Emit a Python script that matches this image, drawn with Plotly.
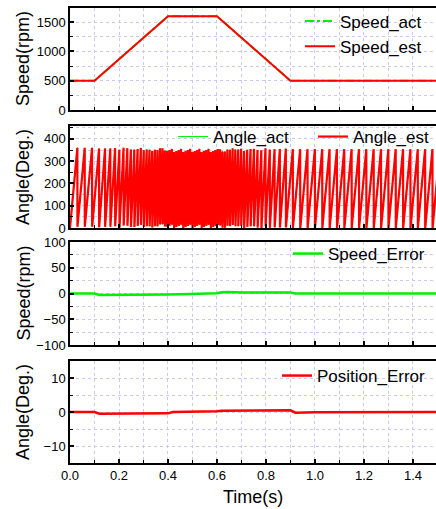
import numpy as np
import plotly.graph_objects as go

# ---- data ----
speed_t = [0.0, 0.1, 0.4, 0.6, 0.9, 1.5]          # s
speed_rpm = [500, 500, 1600, 1600, 500, 500]        # rpm (speed profile)
pole_pairs = 4

spd_err_t = [0.0, 0.1, 0.12, 0.2, 0.3, 0.4, 0.45, 0.5, 0.6, 0.62, 0.64, 0.7, 0.8, 0.9, 0.92, 1.0, 1.5]
spd_err_v = [0.0, 0.0, -3.0, -3.0, -3.0, -2.0, -1.5, -0.5, 0.5, 2.5, 3.0, 2.0, 2.0, 2.0, 0.0, 0.0, 0.0]

pos_err_t = [0.0, 0.1, 0.12, 0.2, 0.3, 0.4, 0.42, 0.5, 0.6, 0.62, 0.7, 0.8, 0.88, 0.9, 0.92, 1.0, 1.5]
pos_err_v = [0.0, 0.0, -0.5, -0.5, -0.4, -0.4, 0.0, 0.0, 0.2, 0.4, 0.4, 0.4, 0.6, 0.5, -0.2, -0.1, 0.0]

x_ticks = [0.0, 0.2, 0.4, 0.6, 0.8, 1.0, 1.2, 1.4]

# ---- electrical angle from the speed profile ----
t = np.arange(0, 1.5 + 1e-9, 0.0005)
spd = np.interp(t, speed_t, speed_rpm)
theta = np.concatenate([[0.0], np.cumsum((spd[1:] + spd[:-1]) / 2 * np.diff(t))]) * 6 * pole_pairs
ang = np.mod(theta, 360.0)

FONT = "Liberation Sans, Arial, sans-serif"
GRID = "#c8c8f2"
RED = "#ff0000"
GREEN = "#00ee00"

fig = go.Figure()
fig.add_trace(go.Scatter(x=speed_t, y=speed_rpm, mode="lines", name="Speed_act",
                         line=dict(color=GREEN, width=2, dash="dashdot"), xaxis="x", yaxis="y", legend="legend"))
fig.add_trace(go.Scatter(x=speed_t, y=speed_rpm, mode="lines", name="Speed_est",
                         line=dict(color=RED, width=2), xaxis="x", yaxis="y", legend="legend"))
fig.add_trace(go.Scatter(x=t, y=ang, mode="lines", name="Angle_act",
                         line=dict(color=GREEN, width=1), xaxis="x2", yaxis="y2", legend="legend2"))
fig.add_trace(go.Scatter(x=t, y=ang, mode="lines", name="Angle_est",
                         line=dict(color=RED, width=2.2), xaxis="x2", yaxis="y2", legend="legend2"))
fig.add_trace(go.Scatter(x=spd_err_t, y=spd_err_v, mode="lines", name="Speed_Error",
                         line=dict(color=GREEN, width=2.5), xaxis="x3", yaxis="y3", legend="legend3"))
fig.add_trace(go.Scatter(x=pos_err_t, y=pos_err_v, mode="lines", name="Position_Error",
                         line=dict(color=RED, width=2.5), xaxis="x4", yaxis="y4", legend="legend4"))

H = 509.0
def dom(top, bot):
    return [(H - bot) / H, (H - top) / H]

panels = [
    (7.5, 110, [0, 1750], 500, 250),
    (126, 228, [0, 458], 100, 50),
    (242, 345, [-100, 100], 50, 25),
    (361, 463, [-15, 15], 10, 5),
]

layout = dict(
    width=436, height=509,
    margin=dict(l=70, r=0, t=0, b=0, autoexpand=False),
    paper_bgcolor="white", plot_bgcolor="white",
    font=dict(family=FONT, size=13, color="black"),
)

for i, (top, bot, yr, dt, mdt) in enumerate(panels):
    n = "" if i == 0 else str(i + 1)
    layout["xaxis" + n] = dict(
        domain=[0, 1], anchor="y" + n, range=[0, 1.494],
        showline=True, mirror=True, linecolor="black", linewidth=1.5,
        ticks="inside", ticklen=4, tickwidth=1.5, tickcolor="black",
        tickvals=x_ticks, ticktext=[f"{v:.1f}" for v in x_ticks],
        showticklabels=(i == 3), tickfont=dict(size=13),
        showgrid=False, zeroline=False, automargin=False,
        minor=dict(dtick=0.1, tick0=0, ticks="inside", ticklen=3, tickwidth=1.2, tickcolor="black",
                   showgrid=True, gridcolor=GRID, griddash="dot", gridwidth=1),
    )
    layout["yaxis" + n] = dict(
        domain=dom(top, bot), anchor="x" + n, range=yr,
        showline=True, mirror=False, linecolor="black", linewidth=1.5,
        ticks="inside", ticklen=4, tickwidth=1.5, tickcolor="black",
        dtick=dt, tick0=0, tickfont=dict(size=13),
        showgrid=True, gridcolor=GRID, griddash="dot", gridwidth=1,
        zeroline=False, automargin=False,
        minor=dict(dtick=mdt, tick0=0, ticks="inside", ticklen=3, tickwidth=1.2, tickcolor="black",
                   showgrid=True, gridcolor=GRID, griddash="dot", gridwidth=1),
    )

leg_common = dict(bgcolor="rgba(0,0,0,0)", borderwidth=0, font=dict(size=17, family=FONT),
                  xanchor="left", yanchor="middle", xref="paper", yref="paper",
                  tracegroupgap=0, itemwidth=30)
def px_x(x):
    return (x - 70) / 366.0
def px_y(y):
    return (H - y) / H

layout["legend"] = dict(leg_common, x=px_x(300), y=px_y(34), orientation="v")
layout["legend2"] = dict(leg_common, x=px_x(173), y=px_y(137), orientation="h",
                         entrywidth=95, entrywidthmode="pixels")
layout["legend3"] = dict(leg_common, x=px_x(288), y=px_y(254), orientation="v")
layout["legend4"] = dict(leg_common, x=px_x(277), y=px_y(376), orientation="v")

fig.update_layout(**layout)

# axis titles
titles = [("Speed(rpm)", 59), ("Angle(Deg.)", 177), ("Speed(rpm)", 293.5), ("Angle(Deg.)", 412)]
for txt, yc in titles:
    fig.add_annotation(text=txt, x=px_x(23), y=px_y(yc), xref="paper", yref="paper",
                       textangle=-90, showarrow=False, font=dict(size=18, family=FONT),
                       xanchor="center", yanchor="middle")
fig.add_annotation(text="Time(s)", x=px_x(253), y=px_y(497), xref="paper", yref="paper",
                   showarrow=False, font=dict(size=18, family=FONT), xanchor="center", yanchor="middle")

fig.write_html("out.html")
